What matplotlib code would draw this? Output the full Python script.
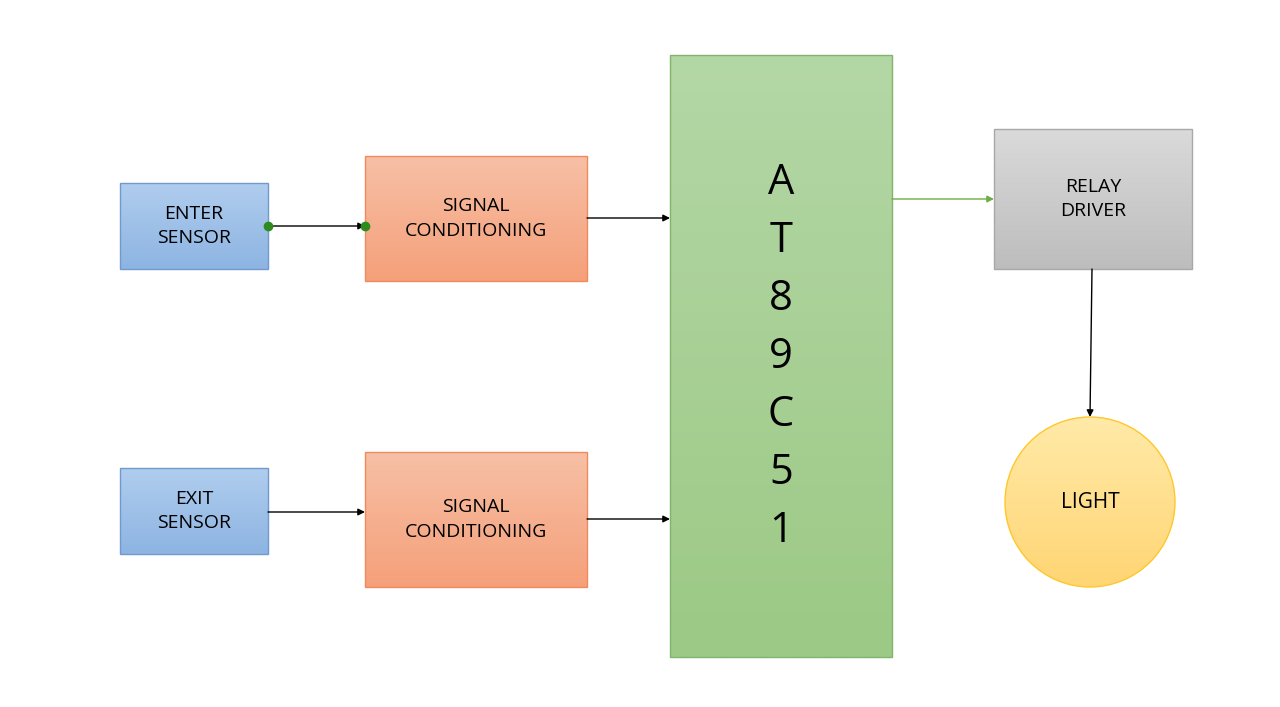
import numpy as np
import matplotlib.pyplot as plt
from matplotlib.patches import Rectangle, Circle
from matplotlib.colors import LinearSegmentedColormap

plt.rcParams['font.family'] = ['Open Sans', 'DejaVu Sans']

# boxes: label, x0, y0, x1, y1 (pixels, y down), top colour, bottom colour, edge
boxes = [
    ("ENTER\nSENSOR", 120, 183, 268, 269, "#b0cdee", "#8db4e2", "#7099cc"),
    ("EXIT\nSENSOR", 120, 468, 268, 554, "#b0cdee", "#8db4e2", "#7099cc"),
    ("SIGNAL\nCONDITIONING", 365, 156, 587, 281, "#f7c0a6", "#f5a07a", "#ee8a5c"),
    ("SIGNAL\nCONDITIONING", 365, 452, 587, 587, "#f7c0a6", "#f5a07a", "#ee8a5c"),
    ("", 670, 55, 892, 657, "#b4d7a6", "#9cc985", "#80b56a"),
    ("RELAY\nDRIVER", 994, 129, 1192, 269, "#dadada", "#bdbdbd", "#a8a8a8"),
]
chip_letters = list("AT89C51")
light = ("LIGHT", 1090, 502, 85, "#ffeaa8", "#ffd574", "#ffc72c")

# arrows: x0, y0, x1, y1, colour
arrows = [
    (268, 226, 365, 226, "black"),
    (587, 218, 670, 218, "black"),
    (268, 512, 365, 512, "black"),
    (587, 519, 670, 519, "black"),
    (892, 199, 994, 199, "#70ad47"),
    (1092, 269, 1090, 417, "black"),
]

fig = plt.figure(figsize=(12.8, 7.07), dpi=100)
ax = fig.add_axes([0, 0, 1, 1])
ax.set_xlim(0, 1280)
ax.set_ylim(707, 0)
ax.axis("off")


def gradient(patch, c_top, c_bot, extent):
    cmap = LinearSegmentedColormap.from_list("g", [c_top, c_bot])
    g = np.linspace(0, 1, 256).reshape(-1, 1)
    im = ax.imshow(g, cmap=cmap, extent=extent, aspect="auto", zorder=1)
    im.set_clip_path(patch)


for label, x0, y0, x1, y1, ct, cb, ce in boxes:
    r = Rectangle((x0, y0), x1 - x0, y1 - y0, facecolor="none", edgecolor=ce, lw=1, zorder=2)
    ax.add_patch(r)
    gradient(r, ct, cb, (x0, x1, y1, y0))
    if label:
        ax.text((x0 + x1) / 2, (y0 + y1) / 2, label, ha="center", va="center",
                fontsize=14, linespacing=1.45, zorder=3)

for i, ch in enumerate(chip_letters):
    ax.text(781, 183 + i * 58, ch, ha="center", va="center", fontsize=30, zorder=3)

label, cx, cy, rad, ct, cb, ce = light
c = Circle((cx, cy), rad, facecolor="none", edgecolor=ce, lw=1, zorder=2)
ax.add_patch(c)
gradient(c, ct, cb, (cx - rad, cx + rad, cy + rad, cy - rad))
ax.text(cx, cy, label, ha="center", va="center", fontsize=15, zorder=3)

for x0, y0, x1, y1, col in arrows:
    ax.annotate("", xy=(x1, y1), xytext=(x0, y0), zorder=4,
                arrowprops=dict(arrowstyle="-|>", color=col, lw=1, mutation_scale=10,
                                shrinkA=0, shrinkB=0))

ax.plot([268, 365], [226, 226], "o", color="#2e8b1e", ms=6, zorder=5)

fig.savefig("out.png", dpi=100, facecolor="white")
